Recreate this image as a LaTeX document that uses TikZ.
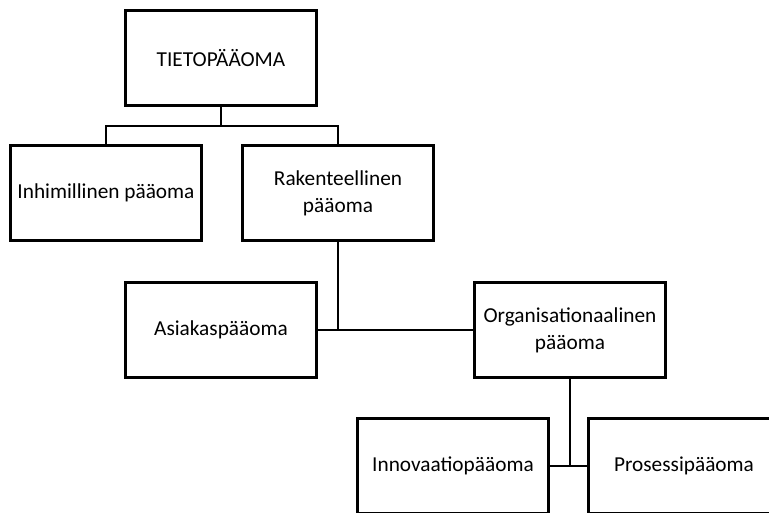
\documentclass[tikz,border=0pt]{standalone}
\usepackage{fontspec}
\setmainfont{Carlito}
\begin{document}
\begin{tikzpicture}[x=1pt,y=-1pt,
  orgbox/.style={draw=black, line width=2.6pt, fill=white, minimum width=191pt,
    minimum height=95pt, align=center, inner sep=2pt,
    font=\fontsize{21.3}{27}\selectfont},
  link/.style={draw=black, line width=2.6pt}]
  \useasboundingbox (0,0) rectangle (769,513);
  \clip (0,0) rectangle (769,513);

  % hierarchy of capital components
  \node[orgbox] (T) at (221,58)  {TIETOPÄÄOMA};
  \node[orgbox] (I) at (106,193) {Inhimillinen pääoma};
  \node[orgbox] (R) at (338,193) {Rakenteellinen\\pääoma};
  \node[orgbox] (A) at (221,330) {Asiakaspääoma};
  \node[orgbox] (O) at (570,330) {Organisationaalinen\\pääoma};
  \node[orgbox] (N) at (453,466) {Innovaatiopääoma};
  \node[orgbox] (P) at (684,466) {Prosessipääoma};

  % junction points of the branching lines
  \coordinate (j1) at (221,126);
  \coordinate (j2) at (338,330);
  \coordinate (j3) at (570,466);

  \draw[link] (T.south) -- (j1);
  \draw[link] (I.north) |- (j1) -| (R.north);
  \draw[link] (R.south) -- (j2);
  \draw[link] (A.east) -- (O.west);
  \draw[link] (O.south) -- (j3);
  \draw[link] (N.east) -- (P.west);
\end{tikzpicture}
\end{document}
